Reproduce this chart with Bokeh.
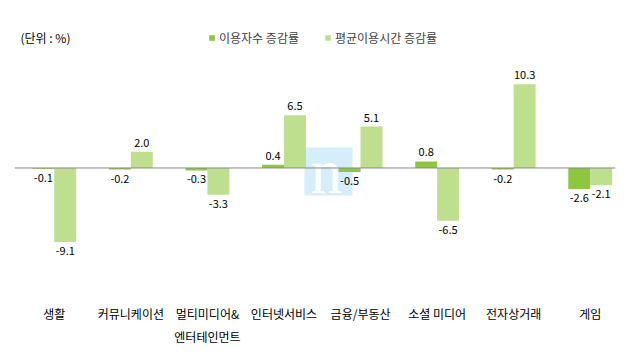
from bokeh.plotting import figure
from bokeh.models import (ColumnDataSource, Range1d, Span, Legend, LegendItem, Label,
                          BoxAnnotation, FixedTicker)
from bokeh.transform import dodge
from bokeh.core.properties import value, field
from bokeh.embed import file_html
from bokeh.resources import INLINE

# ---- data ----
categories = ["생활", "커뮤니케이션", "멀티미디어&\n엔터테인먼트", "인터넷서비스",
              "금융/부동산", "소셜 미디어", "전자상거래", "게임"]
users_growth = [-0.1, -0.2, -0.3, 0.4, -0.5, 0.8, -0.2, -2.6]
time_growth = [-9.1, 2.0, -3.3, 6.5, 5.1, -6.5, 10.3, -2.1]
series_names = ["이용자수 증감률", "평균이용시간 증감률"]
unit_label = "(단위 : %)"
watermark = "n"

# ---- styles ----
DARK = "#8DC63F"
LIGHT = "#BEDF8E"
FONT = "Noto Sans CJK KR"
BAR_W = 0.287
OFF = 0.143

idx = list(range(len(categories)))


def label_cols(vals):
    return ([f"{v:.1f}" for v in vals],
            ["bottom" if v > 0 else "top" for v in vals],
            [-5 if v > 0 else 5 for v in vals])


u_lbl, u_base, u_off = label_cols(users_growth)
t_lbl, t_base, t_off = label_cols(time_growth)

src = ColumnDataSource(dict(x=idx, users=users_growth, time=time_growth,
                            u_lbl=u_lbl, u_base=u_base, u_off=u_off,
                            t_lbl=t_lbl, t_base=t_base, t_off=t_off))

p = figure(width=622, height=354, x_range=Range1d(-0.52, 7.33),
           y_range=Range1d(-15.07, 20.6), output_backend="svg",
           toolbar_location=None, min_border_left=14, min_border_right=7,
           min_border_top=0, min_border_bottom=64)
p.outline_line_color = None
p.xgrid.visible = False
p.ygrid.visible = False
p.yaxis.visible = False

ax = p.xaxis[0]
ax.ticker = FixedTicker(ticks=idx)
ax.major_label_overrides = {i: c for i, c in zip(idx, categories)}
ax.axis_line_color = None
ax.major_tick_line_color = None
ax.minor_tick_line_color = None
ax.major_tick_in = 0
ax.major_tick_out = 0
ax.major_label_standoff = 14
ax.major_label_text_font = FONT
ax.major_label_text_font_size = "12px"
ax.major_label_text_color = "#000000"
ax.major_label_text_line_height = 1.4

# watermark (screen units: from frame left / frame bottom)
p.add_layout(BoxAnnotation(left=290, right=338, top=143, bottom=95,
                           left_units="screen", right_units="screen",
                           top_units="screen", bottom_units="screen",
                           fill_color="#D6EEFB", fill_alpha=1.0, line_color=None,
                           level="underlay"))
p.add_layout(Label(x=312, y=119, x_units="screen", y_units="screen", text=watermark,
                   text_font="Liberation Serif", text_font_size="63px",
                   text_color="white", text_align="center",
                   text_baseline="alphabetic", level="underlay"))

r1 = p.vbar(x=dodge("x", -OFF), top="users", bottom=0, width=BAR_W, source=src,
            fill_color=DARK, line_color=None)
r2 = p.vbar(x=dodge("x", OFF), top="time", bottom=0, width=BAR_W, source=src,
            fill_color=LIGHT, line_color=None)

p.text(x=dodge("x", -OFF), y="users", text="u_lbl", source=src,
       text_baseline=field("u_base"), y_offset="u_off", text_align="center",
       text_font=value(FONT), text_font_size="11px", text_color="#000000")
p.text(x=dodge("x", OFF), y="time", text="t_lbl", source=src,
       text_baseline=field("t_base"), y_offset="t_off", text_align="center",
       text_font=value(FONT), text_font_size="11px", text_color="#000000")

p.add_layout(Span(location=0, dimension="width", line_color="#888888", line_width=1))

legend = Legend(items=[LegendItem(label=series_names[0], renderers=[r1]),
                       LegendItem(label=series_names[1], renderers=[r2])],
                orientation="horizontal", location=(194, 244),
                glyph_width=7, glyph_height=7, label_height=14, label_standoff=4,
                spacing=25, padding=0, margin=0, border_line_color=None,
                background_fill_alpha=0,
                label_text_font=FONT, label_text_font_size="12px")
p.add_layout(legend)

p.add_layout(Label(x=6, y=253, x_units="screen", y_units="screen", text=unit_label,
                   text_font=FONT, text_font_size="12px", text_color="#000000",
                   text_baseline="middle"))

open("out.html", "w").write(file_html(p, INLINE))
